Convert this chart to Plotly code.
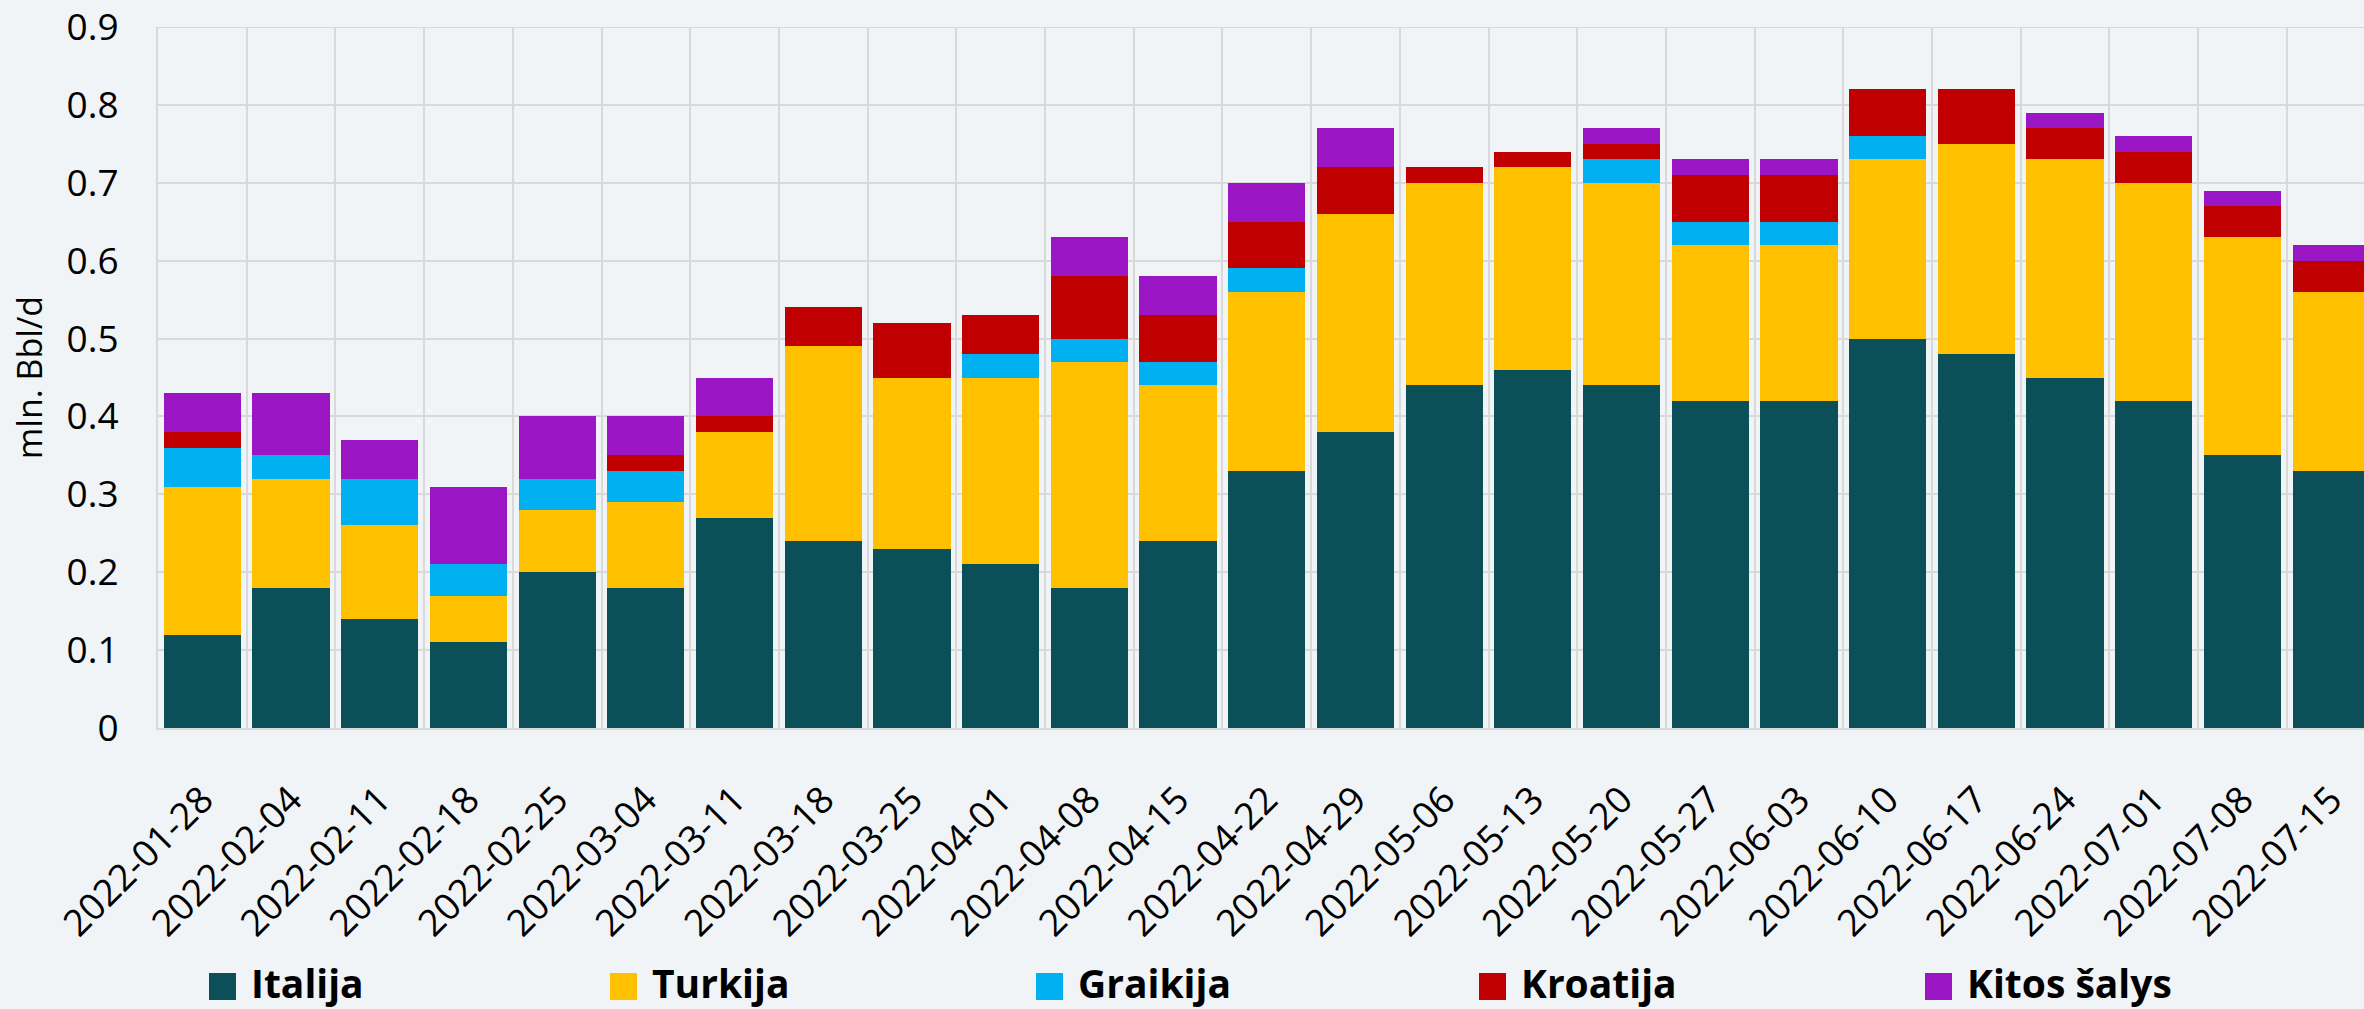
import plotly.graph_objects as go

# ---------------- data ----------------
dates = ["2022-01-28", "2022-02-04", "2022-02-11", "2022-02-18", "2022-02-25",
         "2022-03-04", "2022-03-11", "2022-03-18", "2022-03-25", "2022-04-01",
         "2022-04-08", "2022-04-15", "2022-04-22", "2022-04-29", "2022-05-06",
         "2022-05-13", "2022-05-20", "2022-05-27", "2022-06-03", "2022-06-10",
         "2022-06-17", "2022-06-24", "2022-07-01", "2022-07-08", "2022-07-15"]

italija = [0.12, 0.18, 0.14, 0.11, 0.20, 0.18, 0.27, 0.24, 0.23, 0.21,
           0.18, 0.24, 0.33, 0.38, 0.44, 0.46, 0.44, 0.42, 0.42, 0.50,
           0.48, 0.45, 0.42, 0.35, 0.33]
turkija = [0.19, 0.14, 0.12, 0.06, 0.08, 0.11, 0.11, 0.25, 0.22, 0.24,
           0.29, 0.20, 0.23, 0.28, 0.26, 0.26, 0.26, 0.20, 0.20, 0.23,
           0.27, 0.28, 0.28, 0.28, 0.23]
graikija = [0.05, 0.03, 0.06, 0.04, 0.04, 0.04, 0.00, 0.00, 0.00, 0.03,
            0.03, 0.03, 0.03, 0.00, 0.00, 0.00, 0.03, 0.03, 0.03, 0.03,
            0.00, 0.00, 0.00, 0.00, 0.00]
kroatija = [0.02, 0.00, 0.00, 0.00, 0.00, 0.02, 0.02, 0.05, 0.07, 0.05,
            0.08, 0.06, 0.06, 0.06, 0.02, 0.02, 0.02, 0.06, 0.06, 0.06,
            0.07, 0.04, 0.04, 0.04, 0.04]
kitos = [0.05, 0.08, 0.05, 0.10, 0.08, 0.05, 0.05, 0.00, 0.00, 0.00,
         0.05, 0.05, 0.05, 0.05, 0.00, 0.00, 0.02, 0.02, 0.02, 0.00,
         0.00, 0.02, 0.02, 0.02, 0.02]

series_names = ["Italija", "Turkija", "Graikija", "Kroatija", "Kitos šalys"]
series_values = [italija, turkija, graikija, kroatija, kitos]
y_ticks = [0, 0.1, 0.2, 0.3, 0.4, 0.5, 0.6, 0.7, 0.8, 0.9]
y_ticktext = ["0", "0.1", "0.2", "0.3", "0.4", "0.5", "0.6", "0.7", "0.8", "0.9"]
y_title = "mln. Bbl/d"

# ---------------- style ----------------
colors = ["#0B5058", "#FFC000", "#00B0F0", "#C00000", "#9A15C3"]
BG = "#F0F4F7"
GRID = "#D9D9D9"
FONT = "Open Sans"

W, H = 2364, 1009
ML, MR, MT = 158, 0, 27
PLOT_BOTTOM = 728
MB = H - PLOT_BOTTOM
PW, PH = W - ML - MR, H - MT - MB

fig = go.Figure()
for name, vals, col in zip(series_names, series_values, colors):
    fig.add_trace(go.Bar(x=dates, y=vals, name=name,
                         marker=dict(color=col, line=dict(width=0)),
                         showlegend=False))

cat_w = 88.7
x_hi = -0.5 + PW / cat_w
y_top = y_ticks[-1]

fig.update_layout(
    width=W, height=H, barmode="stack", bargap=0.13,
    margin=dict(l=ML, r=MR, t=MT, b=MB, pad=0),
    paper_bgcolor=BG, plot_bgcolor=BG,
    font=dict(family=FONT, color="black"),
    showlegend=False,
)
fig.update_xaxes(type="category", tickson="boundaries", showgrid=True,
                 gridcolor=GRID, gridwidth=2, ticks="", tickangle=-45,
                 tickfont=dict(size=37, family=FONT, color="black"),
                 range=[-0.5, x_hi], showline=True, linecolor=GRID, linewidth=2,
                 ticklabelstandoff=33, automargin=False)
fig.update_yaxes(range=[0, y_top + 1e-6], tickmode="array", tickvals=y_ticks,
                 ticktext=y_ticktext, showgrid=True, gridcolor=GRID,
                 gridwidth=2, zeroline=False, showline=True, linecolor=GRID, linewidth=2,
                 ticks="", tickfont=dict(size=37, family=FONT, color="black"),
                 ticklabelstandoff=30, ticklabeloverflow="allow", automargin=False,
                 title=dict(text=y_title, font=dict(size=34, family=FONT, color="black"),
                            standoff=14))

# top gridline (plot edge)
fig.add_shape(type="line", xref="paper", yref="y", x0=0, x1=1, y0=y_top, y1=y_top,
              line=dict(color=GRID, width=2), layer="below")

# ---------------- custom legend (large square keys) ----------------
sq_x = [209, 610, 1036, 1479, 1925]
sq_size = 27
sq_top, sq_bot = 973, 1000
txt_gap = 13

def px2x(p):
    return (p - ML) / PW

def px2y(p):
    return (MT + PH - p) / PH

for name, col, sx in zip(series_names, colors, sq_x):
    fig.add_shape(type="rect", xref="paper", yref="paper",
                  x0=px2x(sx), x1=px2x(sx + sq_size),
                  y0=px2y(sq_bot), y1=px2y(sq_top),
                  fillcolor=col, line=dict(width=0), layer="above")
    fig.add_annotation(xref="paper", yref="paper",
                       x=px2x(sx + sq_size + txt_gap), y=px2y(982),
                       xanchor="left", yanchor="middle", showarrow=False,
                       text="<b>" + name + "</b>",
                       font=dict(size=39, family=FONT, color="black"))

fig.write_html("out.html", config={"displayModeBar": False},
               post_script="document.body.style.margin='0';document.body.style.overflow='hidden';")
